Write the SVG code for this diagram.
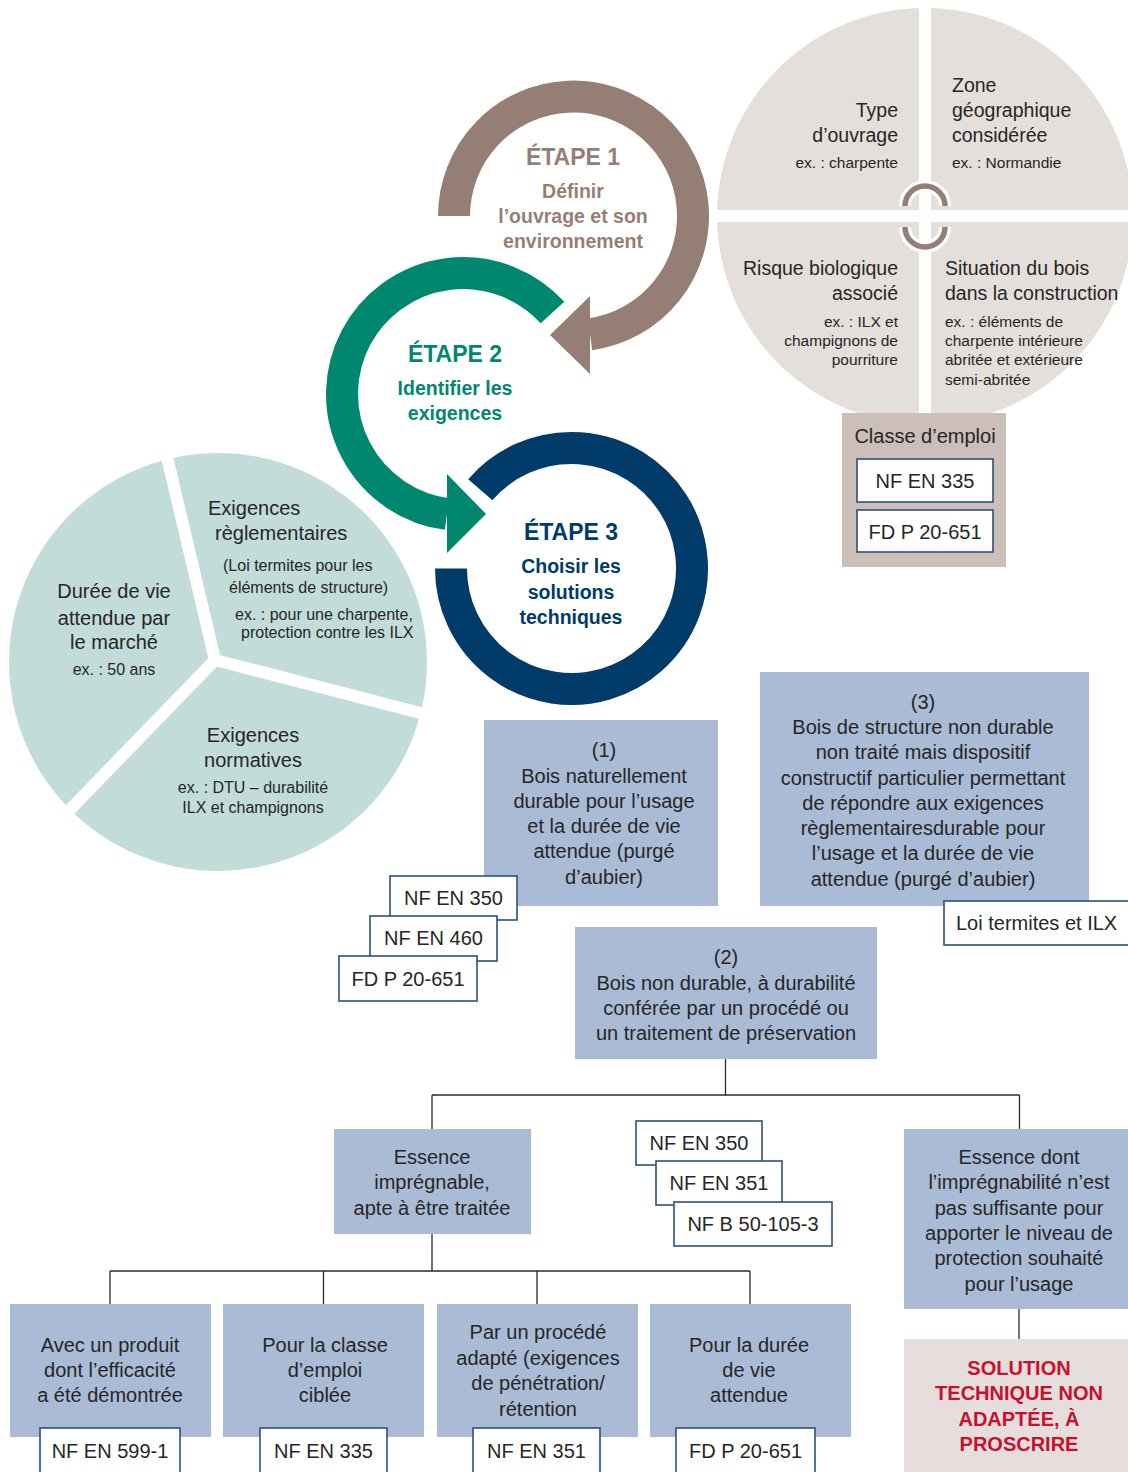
<svg xmlns="http://www.w3.org/2000/svg" width="1128" height="1472" viewBox="0 0 1128 1472">
<style>
text { font-family: "Liberation Sans", Arial, sans-serif; fill: #262626; font-size: 20px; }
.t19 { font-size: 19.5px; }
.s15 { font-size: 15.5px; }
.s16 { font-size: 16px; }
.c { text-anchor: middle; }
.e { text-anchor: end; }
.box { fill: #aabbd6; }
.std { fill: #ffffff; stroke: #2e5079; stroke-width: 1.6; }
.ring { fill: none; stroke-width: 32; }
.conn { stroke: #2a2a2a; stroke-width: 1.3; fill: none; }
.gap { stroke: #ffffff; fill: none; }
.h { font-weight: bold; font-size: 23px; }
.b { font-weight: bold; font-size: 19.5px; }
.red { fill: #c8102e; font-weight: bold; font-size: 20px; }
</style>

<g id="context-circle">
  <circle cx="925" cy="216" r="208" fill="#e5dfdc"/>
  <line class="gap" x1="925" y1="0" x2="925" y2="440" stroke-width="12"/>
  <line class="gap" x1="700" y1="216" x2="1140" y2="216" stroke-width="12"/>
  <path d="M905 206 A20 20 0 0 1 945 206" stroke="#ffffff" stroke-width="12" fill="none"/>
  <path d="M905 206 A20 20 0 0 1 945 206" stroke="#957f75" stroke-width="5.5" fill="none"/>
  <path d="M905 227 A20 20 0 0 0 945 227" stroke="#ffffff" stroke-width="12" fill="none"/>
  <path d="M905 227 A20 20 0 0 0 945 227" stroke="#957f75" stroke-width="5.5" fill="none"/>
  <text class="t19 e" x="898" y="117">Type</text>
  <text class="t19 e" x="898" y="142">d’ouvrage</text>
  <text class="s15 e" x="898" y="168">ex. : charpente</text>
  <text class="t19" x="952" y="92">Zone</text>
  <text class="t19" x="952" y="117">géographique</text>
  <text class="t19" x="952" y="142">considérée</text>
  <text class="s15" x="952" y="168">ex. : Normandie</text>
  <text class="t19 e" x="898" y="275">Risque biologique</text>
  <text class="t19 e" x="898" y="300">associé</text>
  <text class="s15 e" x="898" y="327">ex. : ILX et</text>
  <text class="s15 e" x="898" y="346">champignons de</text>
  <text class="s15 e" x="898" y="365">pourriture</text>
  <text class="t19" x="945" y="275">Situation du bois</text>
  <text class="t19" x="945" y="300">dans la construction</text>
  <text class="s15" x="945" y="327">ex. : éléments de</text>
  <text class="s15" x="945" y="346">charpente intérieure</text>
  <text class="s15" x="945" y="365">abritée et extérieure</text>
  <text class="s15" x="945" y="385">semi-abritée</text>
</g>

<g id="classe-emploi">
  <rect x="842" y="413" width="164" height="154" fill="#ccbeb9"/>
  <text class="c" x="925" y="443">Classe d’emploi</text>
  <rect class="std" x="857" y="459" width="136" height="43"/>
  <text class="c" x="925" y="488">NF EN 335</text>
  <rect class="std" x="857" y="510" width="136" height="42"/>
  <text class="c" x="925" y="539">FD P 20-651</text>
</g>

<g id="requirements-pie">
  <circle cx="218" cy="662" r="209" fill="#c2ddd9"/>
  <line class="gap" x1="215" y1="660" x2="163" y2="440" stroke-width="12" stroke-linecap="round"/>
  <line class="gap" x1="215" y1="660" x2="432" y2="716" stroke-width="12" stroke-linecap="round"/>
  <line class="gap" x1="215" y1="660" x2="58" y2="822" stroke-width="12" stroke-linecap="round"/>
  <text x="208" y="515">Exigences</text>
  <text x="215" y="540">règlementaires</text>
  <text class="s16" x="223" y="571">(Loi termites pour les</text>
  <text class="s16" x="229" y="593">éléments de structure)</text>
  <text class="s16" x="235" y="620">ex. : pour une charpente,</text>
  <text class="s16" x="241" y="638">protection contre les ILX</text>
  <text class="c" x="114" y="598">Durée de vie</text>
  <text class="c" x="114" y="625">attendue par</text>
  <text class="c" x="114" y="649">le marché</text>
  <text class="s16 c" x="114" y="675">ex. : 50 ans</text>
  <text class="c" x="253" y="742">Exigences</text>
  <text class="c" x="253" y="767">normatives</text>
  <text class="s16 c" x="253" y="793">ex. : DTU – durabilité</text>
  <text class="s16 c" x="253" y="813">ILX et champignons</text>
</g>

<g id="etape1">
  <path class="ring" d="M454 216 A119.5 119.5 0 1 1 590 334.4" stroke="#957f75" stroke-width="33"/>
  <polygon points="590,296 590,374 550,335" fill="#957f75"/>
  <text class="h c" x="573" y="165" style="fill:#957f75">ÉTAPE 1</text>
  <text class="b c" x="573" y="198" style="fill:#957f75">Définir</text>
  <text class="b c" x="573" y="223" style="fill:#957f75">l’ouvrage et son</text>
  <text class="b c" x="573" y="248" style="fill:#957f75">environnement</text>
</g>

<g id="etape2">
  <path class="ring" d="M552.5 312.6 A121 121 0 1 0 447 514" stroke="#00876f"/>
  <polygon points="447,474 447,553 486,514" fill="#00876f"/>
  <text class="h c" x="455" y="362" style="fill:#00876f">ÉTAPE 2</text>
  <text class="b c" x="455" y="395" style="fill:#00876f">Identifier les</text>
  <text class="b c" x="455" y="420" style="fill:#00876f">exigences</text>
</g>

<g id="etape3">
  <path class="ring" d="M451 568.5 A120.5 120.5 0 1 0 480.3 489.7" stroke="#003b69"/>
  <text class="h c" x="571" y="540" style="fill:#003b69">ÉTAPE 3</text>
  <text class="b c" x="571" y="573" style="fill:#003b69">Choisir les</text>
  <text class="b c" x="571" y="599" style="fill:#003b69">solutions</text>
  <text class="b c" x="571" y="624" style="fill:#003b69">techniques</text>
</g>

<g id="connectors">
  <path class="conn" d="M725.5 1059 V1095 M432 1095 H1019.5 M432 1095 V1129 M1019.5 1095 V1129"/>
  <path class="conn" d="M432 1234 V1271 M110 1271 H750 M110 1271 V1304 M323.5 1271 V1304 M537 1271 V1304 M750 1271 V1304"/>
  <path class="conn" d="M1019 1309 V1339"/>
</g>

<g id="solution-1">
  <rect class="box" x="484" y="720" width="234" height="186"/>
  <text class="c" x="604" y="757">(1)</text>
  <text class="c" x="604" y="783">Bois naturellement</text>
  <text class="c" x="604" y="808">durable pour l’usage</text>
  <text class="c" x="604" y="833">et la durée de vie</text>
  <text class="c" x="604" y="858">attendue (purgé</text>
  <text class="c" x="604" y="884">d’aubier)</text>
</g>

<g id="solution-1-norms">
  <rect class="std" x="390" y="876" width="127" height="44"/>
  <text class="c" x="453.5" y="905">NF EN 350</text>
  <rect class="std" x="370" y="916" width="127" height="45"/>
  <text class="c" x="433.5" y="945">NF EN 460</text>
  <rect class="std" x="339" y="956" width="138" height="45"/>
  <text class="c" x="408" y="986">FD P 20-651</text>
</g>

<g id="solution-3">
  <rect class="box" x="760" y="672" width="329" height="234"/>
  <text class="c" x="923" y="709">(3)</text>
  <text class="c" x="923" y="734">Bois de structure non durable</text>
  <text class="c" x="923" y="759">non traité mais dispositif</text>
  <text class="c" x="923" y="785">constructif particulier permettant</text>
  <text class="c" x="923" y="810">de répondre aux exigences</text>
  <text class="c" x="923" y="835">règlementairesdurable pour</text>
  <text class="c" x="923" y="860">l’usage et la durée de vie</text>
  <text class="c" x="923" y="886">attendue (purgé d’aubier)</text>
</g>

<g id="solution-3-norm">
  <rect class="std" x="944" y="901" width="190" height="44"/>
  <text x="956" y="930">Loi termites et ILX</text>
</g>

<g id="solution-2">
  <rect class="box" x="575" y="927" width="302" height="132"/>
  <text class="c" x="726" y="964">(2)</text>
  <text class="c" x="726" y="990">Bois non durable, à durabilité</text>
  <text class="c" x="726" y="1015">conférée par un procédé ou</text>
  <text class="c" x="726" y="1040">un traitement de préservation</text>
</g>

<g id="essence-impregnable">
  <rect class="box" x="334" y="1129" width="197" height="105"/>
  <text class="c" x="432" y="1164">Essence</text>
  <text class="c" x="432" y="1189">imprégnable,</text>
  <text class="c" x="432" y="1215">apte à être traitée</text>
</g>

<g id="solution-2-norms">
  <rect class="std" x="636" y="1121" width="126" height="44"/>
  <text class="c" x="699" y="1150">NF EN 350</text>
  <rect class="std" x="656" y="1161" width="126" height="44"/>
  <text class="c" x="719" y="1190">NF EN 351</text>
  <rect class="std" x="674" y="1202" width="158" height="44"/>
  <text class="c" x="753" y="1231">NF B 50-105-3</text>
</g>

<g id="essence-non-impregnable">
  <rect class="box" x="904" y="1129" width="230" height="180"/>
  <text class="c" x="1019" y="1164">Essence dont</text>
  <text class="c" x="1019" y="1189">l’imprégnabilité n’est</text>
  <text class="c" x="1019" y="1215">pas suffisante pour</text>
  <text class="c" x="1019" y="1240">apporter le niveau de</text>
  <text class="c" x="1019" y="1265">protection souhaité</text>
  <text class="c" x="1019" y="1291">pour l’usage</text>
</g>

<g id="solution-proscrire">
  <rect x="904" y="1339" width="230" height="140" fill="#e5dedc"/>
  <text class="red c" x="1019" y="1375">SOLUTION</text>
  <text class="red c" x="1019" y="1400">TECHNIQUE NON</text>
  <text class="red c" x="1019" y="1426">ADAPTÉE, À</text>
  <text class="red c" x="1019" y="1451">PROSCRIRE</text>
</g>

<g id="produit">
  <rect class="box" x="10" y="1304" width="201" height="133"/>
  <text class="c" x="110" y="1352">Avec un produit</text>
  <text class="c" x="110" y="1377">dont l’efficacité</text>
  <text class="c" x="110" y="1402">a été démontrée</text>
  <rect class="std" x="40" y="1428" width="140" height="50"/>
  <text class="c" x="110" y="1458">NF EN 599-1</text>
</g>

<g id="classe">
  <rect class="box" x="223" y="1304" width="201" height="133"/>
  <text class="c" x="325" y="1352">Pour la classe</text>
  <text class="c" x="325" y="1377">d’emploi</text>
  <text class="c" x="325" y="1402">ciblée</text>
  <rect class="std" x="260" y="1428" width="127" height="50"/>
  <text class="c" x="323.5" y="1458">NF EN 335</text>
</g>

<g id="procede">
  <rect class="box" x="437" y="1304" width="201" height="133"/>
  <text class="c" x="538" y="1339">Par un procédé</text>
  <text class="c" x="538" y="1365">adapté (exigences</text>
  <text class="c" x="538" y="1390">de pénétration/</text>
  <text class="c" x="538" y="1416">rétention</text>
  <rect class="std" x="473" y="1428" width="127" height="50"/>
  <text class="c" x="536.5" y="1458">NF EN 351</text>
</g>

<g id="duree">
  <rect class="box" x="650" y="1304" width="201" height="133"/>
  <text class="c" x="749" y="1352">Pour la durée</text>
  <text class="c" x="749" y="1377">de vie</text>
  <text class="c" x="749" y="1402">attendue</text>
  <rect class="std" x="676" y="1428" width="139" height="50"/>
  <text class="c" x="745.5" y="1458">FD P 20-651</text>
</g>
</svg>
